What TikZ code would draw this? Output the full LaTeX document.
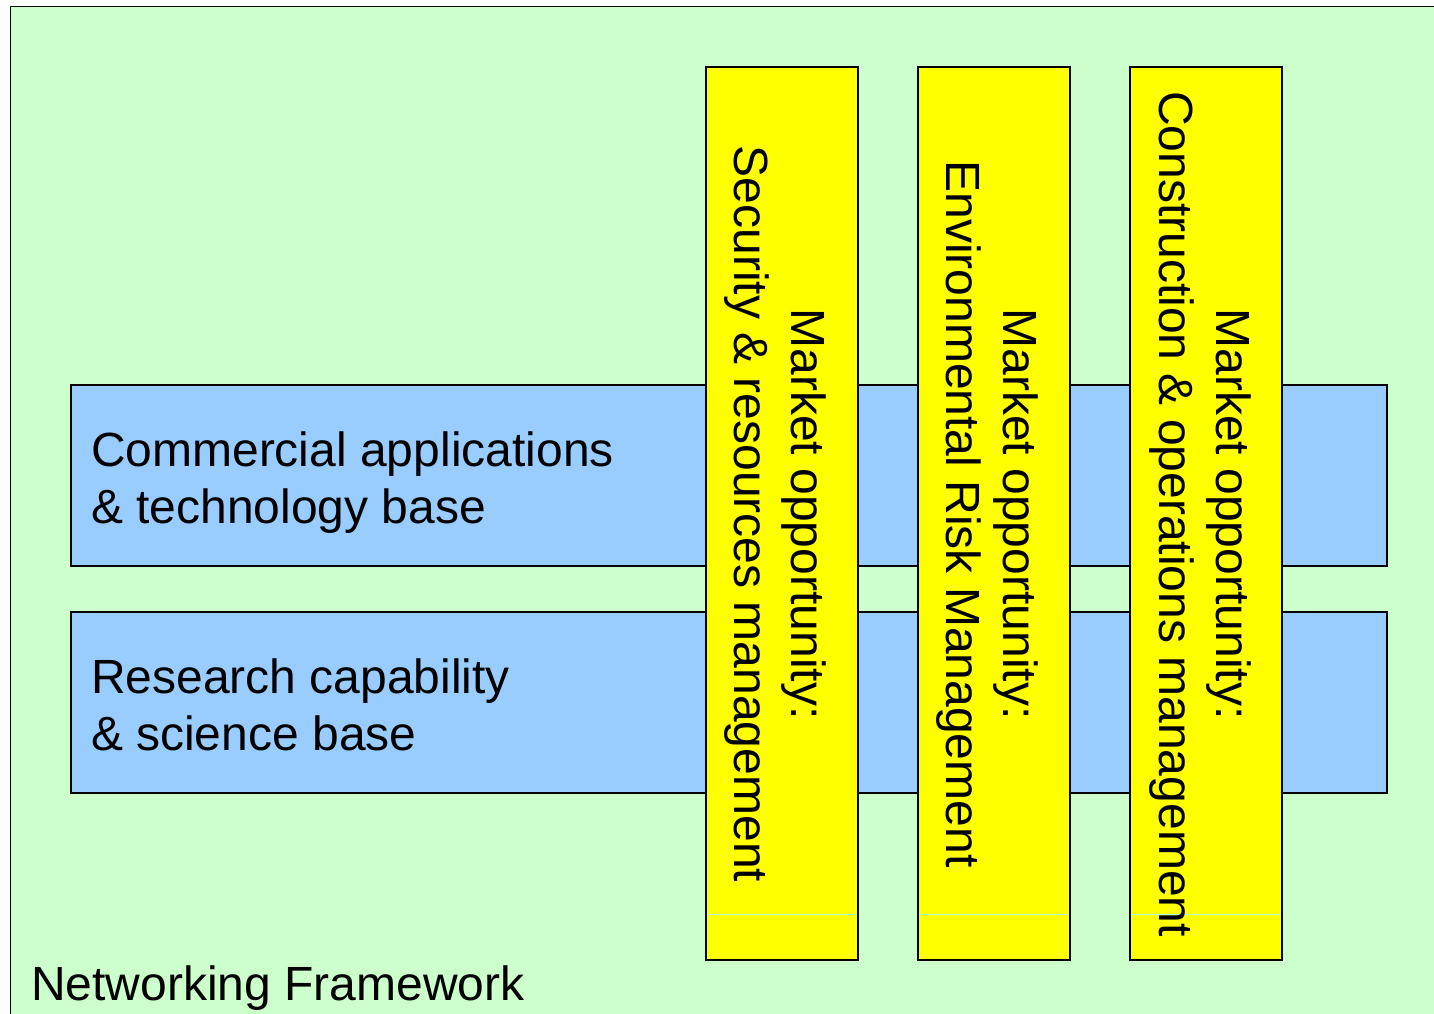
\documentclass[tikz,border=0pt]{standalone}
\usepackage{fontspec}
\setmainfont{Liberation Sans}
\definecolor{bggreen}{RGB}{204,255,204}
\definecolor{barblue}{RGB}{153,204,255}
\definecolor{baryellow}{RGB}{255,255,0}
\definecolor{seamline}{RGB}{170,255,225}
\tikzset{
  framebox/.style={draw=black, line width=1.6pt, fill=bggreen, rectangle, inner sep=0, outer sep=0},
  bluebar/.style={draw=black, line width=1.5pt, fill=barblue, rectangle, inner sep=0, outer sep=0, minimum width=1316pt, minimum height=181pt},
  yellowbar/.style={draw=black, line width=1.5pt, fill=baryellow, rectangle, inner sep=0, outer sep=0, minimum width=152pt, minimum height=893pt},
  bigtext/.style={font=\fontsize{48}{57}\selectfont, inner sep=0, outer sep=0},
  bartext/.style={bigtext, align=left, anchor=north west},
  vtext/.style={bigtext, align=center, rotate=-90, anchor=center},
  seam/.style={draw=seamline, line width=1pt}
}
\begin{document}
\begin{tikzpicture}[x=1pt,y=-1pt]
\useasboundingbox (0,0) rectangle (1434,1013);
\clip (0,0) rectangle (1434,1013);
\fill[white] (0,0) rectangle (1434,1013);
% outer frame (extends beyond right and bottom edges)
\node[framebox, anchor=north west, minimum width=1432pt, minimum height=1020pt] (frame) at (10.5,6.5) {};
% horizontal blue bars
\node[bluebar, anchor=north west] (commercial) at (71,385) {};
\node[bluebar, anchor=north west] (research) at (71,612) {};
\node[bartext] (commtext) at (91,431.5) {Commercial applications\\\& technology base};
\node[bartext] (restext) at (91,658.5) {Research capability\\\& science base};
% vertical yellow bars
\node[yellowbar, anchor=north west] (security) at (706,67) {};
\node[yellowbar, anchor=north west] (environ) at (918,67) {};
\node[yellowbar, anchor=north west] (construct) at (1130,67) {};
\coordinate (seamY) at (0,914);
\draw[seam] ([xshift=1pt]security.west |- seamY) -- ([xshift=-1pt]security.east |- seamY);
\draw[seam] ([xshift=1pt]environ.west |- seamY) -- ([xshift=-1pt]environ.east |- seamY);
\draw[seam] ([xshift=1pt]construct.west |- seamY) -- ([xshift=-1pt]construct.east |- seamY);
\node[vtext] (sectext) at (775.6,514) {Market opportunity:\\Security \& resources management};
\node[vtext] (envtext) at (987.7,514) {Market opportunity:\\Environmental Risk Management};
\node[vtext] (context) at (1200.7,514) {Market opportunity:\\Construction \& operations management};
% framework label
\node[bigtext, anchor=base west] (netlabel) at (31,1000) {Networking Framework};
\end{tikzpicture}
\end{document}
